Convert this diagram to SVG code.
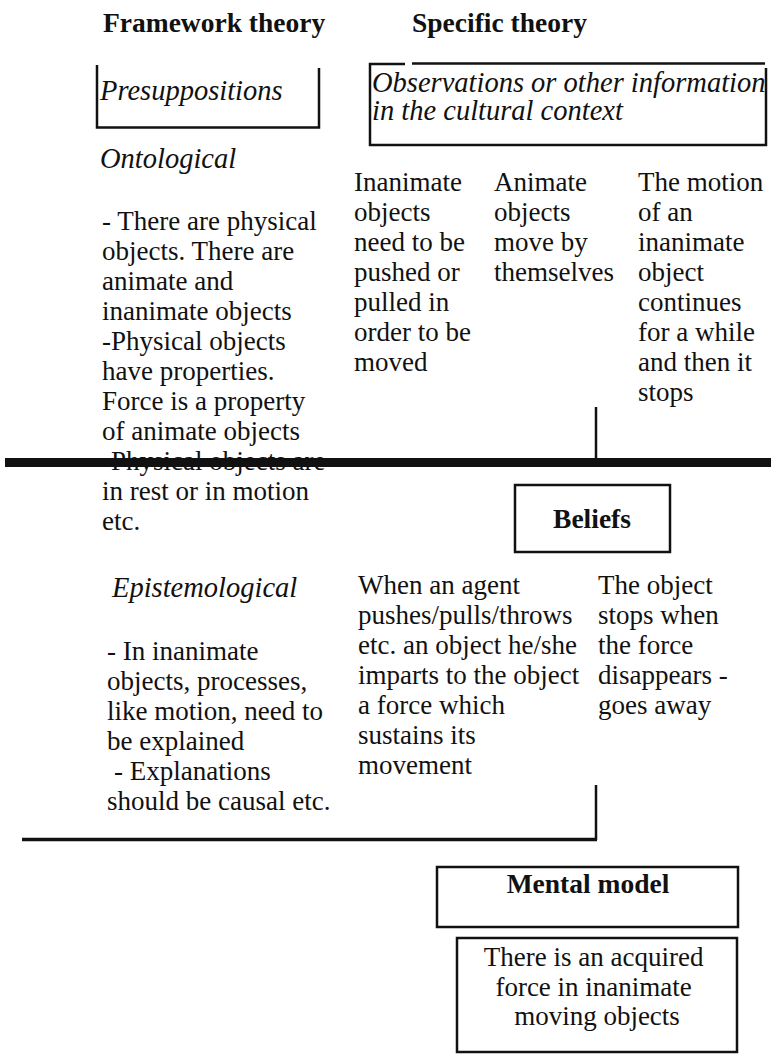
<svg xmlns="http://www.w3.org/2000/svg" width="771" height="1055" viewBox="0 0 771 1055">
<style>
  .t { font-family: "Liberation Serif", "Times New Roman", serif; font-size: 27px; fill: #111; }
  .i { font-family: "Liberation Serif", "Times New Roman", serif; font-size: 28.5px; font-style: italic; fill: #111; }
  .b { font-family: "Liberation Serif", "Times New Roman", serif; font-size: 27.5px; font-weight: bold; fill: #111; }
  .box { fill: none; stroke: #111; stroke-width: 2.5; }
  .ln { fill: none; stroke: #111; stroke-width: 2.5; }
  .c { text-anchor: middle; }
</style>
<rect x="0" y="0" width="771" height="1055" fill="#fff"/>

<g id="header-framework"><text class="b" x="103" y="32">Framework theory</text></g>
<g id="header-specific"><text class="b" x="412" y="32">Specific theory</text></g>

<g id="presuppositions">
  <path class="box" d="M97,65 V127.5 H319 V68"/>
  <text class="i" x="100" y="100">Presuppositions</text>
</g>

<g id="observations">
  <path class="box" d="M405,64 H370 V145 H766 V68"/>
  <path class="box" d="M412,63.5 H765"/>
  <text class="i" x="372" y="92">Observations or other information</text>
  <text class="i" x="372" y="120">in the cultural context</text>
</g>

<g id="ontological">
  <text class="i" x="100" y="168">Ontological</text>
  <text class="t">
    <tspan x="102" y="230">- There are physical</tspan>
    <tspan x="102" dy="30">objects. There are</tspan>
    <tspan x="102" dy="30">animate and</tspan>
    <tspan x="102" dy="30">inanimate objects</tspan>
    <tspan x="102" dy="30">-Physical objects</tspan>
    <tspan x="102" dy="30">have properties.</tspan>
    <tspan x="102" dy="30">Force is a property</tspan>
    <tspan x="102" dy="30">of animate objects</tspan>
    <tspan x="102" dy="30">-Physical objects are</tspan>
    <tspan x="102" dy="30">in rest or in motion</tspan>
    <tspan x="102" dy="30">etc.</tspan>
  </text>
</g>

<g id="specific-inanimate">
  <text class="t">
    <tspan x="354" y="191">Inanimate</tspan>
    <tspan x="354" dy="30">objects</tspan>
    <tspan x="354" dy="30">need to be</tspan>
    <tspan x="354" dy="30">pushed or</tspan>
    <tspan x="354" dy="30">pulled in</tspan>
    <tspan x="354" dy="30">order to be</tspan>
    <tspan x="354" dy="30">moved</tspan>
  </text>
</g>
<g id="specific-animate">
  <text class="t">
    <tspan x="494" y="191">Animate</tspan>
    <tspan x="494" dy="30">objects</tspan>
    <tspan x="494" dy="30">move by</tspan>
    <tspan x="494" dy="30">themselves</tspan>
  </text>
</g>
<g id="specific-motion">
  <text class="t">
    <tspan x="638" y="191">The motion</tspan>
    <tspan x="638" dy="30">of an</tspan>
    <tspan x="638" dy="30">inanimate</tspan>
    <tspan x="638" dy="30">object</tspan>
    <tspan x="638" dy="30">continues</tspan>
    <tspan x="638" dy="30">for a while</tspan>
    <tspan x="638" dy="30">and then it</tspan>
    <tspan x="638" dy="30">stops</tspan>
  </text>
</g>

<g id="beliefs">
  <rect class="box" x="515" y="485" width="155" height="67"/>
  <text class="b c" x="592" y="528">Beliefs</text>
</g>

<g id="epistemological">
  <text class="i" x="112" y="597">Epistemological</text>
  <text class="t">
    <tspan x="107" y="660">- In inanimate</tspan>
    <tspan x="107" dy="30">objects, processes,</tspan>
    <tspan x="107" dy="30">like motion, need to</tspan>
    <tspan x="107" dy="30">be explained</tspan>
    <tspan x="114" dy="30">- Explanations</tspan>
    <tspan x="107" dy="30">should be causal etc.</tspan>
  </text>
</g>

<g id="belief-agent">
  <text class="t">
    <tspan x="358" y="594">When an agent</tspan>
    <tspan x="358" dy="30">pushes/pulls/throws</tspan>
    <tspan x="358" dy="30">etc. an object he/she</tspan>
    <tspan x="358" dy="30">imparts to the object</tspan>
    <tspan x="358" dy="30">a force which</tspan>
    <tspan x="358" dy="30">sustains its</tspan>
    <tspan x="358" dy="30">movement</tspan>
  </text>
</g>
<g id="belief-stops">
  <text class="t">
    <tspan x="598" y="594">The object</tspan>
    <tspan x="598" dy="30">stops when</tspan>
    <tspan x="598" dy="30">the force</tspan>
    <tspan x="598" dy="30">disappears -</tspan>
    <tspan x="598" dy="30">goes away</tspan>
  </text>
</g>

<g id="mental-model">
  <rect class="box" x="437" y="867" width="301" height="60"/>
  <text class="b c" x="588" y="893">Mental model</text>
</g>

<g id="acquired-force">
  <rect class="box" x="457" y="938" width="280" height="114"/>
  <text class="t c">
    <tspan x="597" y="966">There is an acquired</tspan>
    <tspan x="597" dy="29.5">force in inanimate</tspan>
    <tspan x="597" dy="29.5">moving objects</tspan>
  </text>
</g>

<g id="connectors">
  <line class="ln" x1="596" y1="407" x2="596" y2="460" stroke-width="2"/>
  <line x1="5" y1="462.5" x2="771" y2="462.5" stroke="#111" stroke-width="9"/>
  <line class="ln" x1="596" y1="785" x2="596" y2="840" stroke-width="2"/>
  <line x1="22" y1="839.5" x2="597" y2="839.5" stroke="#111" stroke-width="3.5"/>
</g>
</svg>
